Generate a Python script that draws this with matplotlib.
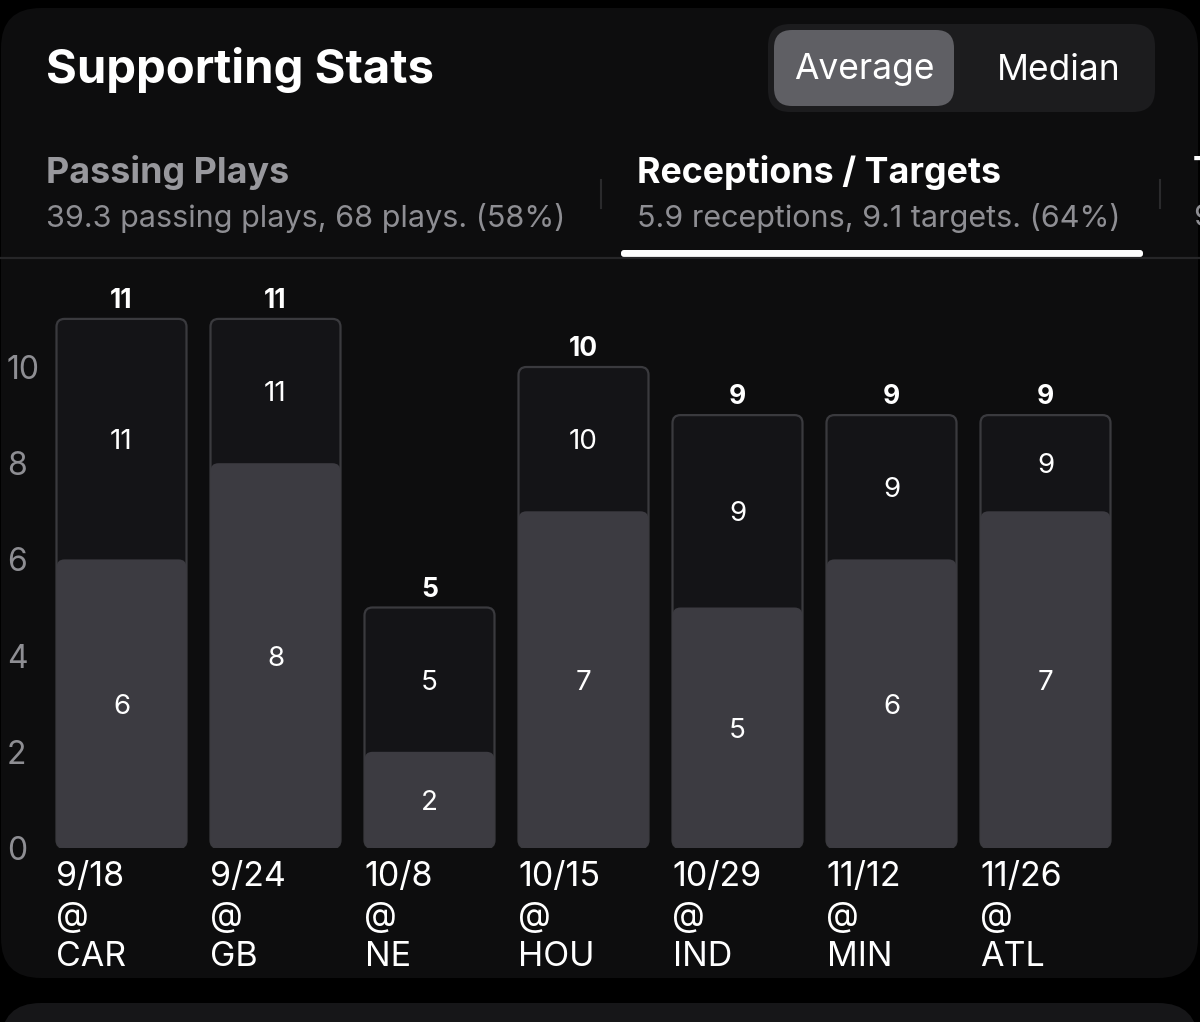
import matplotlib.pyplot as plt
from matplotlib.patches import FancyBboxPatch

plt.rcParams['font.family'] = ['Inter', 'DejaVu Sans']

# data
games = ['9/18', '9/24', '10/8', '10/15', '10/29', '11/12', '11/26']
opponents = ['CAR', 'GB', 'NE', 'HOU', 'IND', 'MIN', 'ATL']
targets = [11, 11, 5, 10, 9, 9, 9]
receptions = [6, 8, 2, 7, 5, 6, 7]
y_ticks = [0, 2, 4, 6, 8, 10]

W, H = 1200, 1022
fig = plt.figure(figsize=(W / 100, H / 100), dpi=100, facecolor='black')

# background / UI layer in pixel coords
bg = fig.add_axes([0, 0, 1, 1], zorder=0)
bg.set_xlim(0, W)
bg.set_ylim(H, 0)
bg.axis('off')

bg.add_patch(FancyBboxPatch((1, 8), 1197, 970, boxstyle='round,pad=0,rounding_size=40',
                            fc='#0d0d0e', ec='none'))
bg.add_patch(FancyBboxPatch((1, 1003), 1197, 100, boxstyle='round,pad=0,rounding_size=40',
                            fc='#161618', ec='none'))

bg.text(46, 70, 'Supporting Stats', color='white', fontsize=34, fontweight='bold',
        ha='left', va='center')

# segmented control
bg.add_patch(FancyBboxPatch((768, 24), 387, 88, boxstyle='round,pad=0,rounding_size=22',
                            fc='#1c1c1e', ec='none'))
bg.add_patch(FancyBboxPatch((774, 30), 180, 76, boxstyle='round,pad=0,rounding_size=18',
                            fc='#5f5f64', ec='none'))
bg.text(864, 70, 'Average', color='white', fontsize=25.5, ha='center', va='center')
bg.text(1059, 70, 'Median', color='white', fontsize=25.5, ha='center', va='center')

# tabs
bg.text(46, 173, 'Passing Plays', color='#98989d', fontsize=25.8, fontweight='bold',
        ha='left', va='center')
bg.text(46, 218, '39.3 passing plays, 68 plays. (58%)', color='#8e8e93', fontsize=22,
        ha='left', va='center')
bg.text(637, 173, 'Receptions / Targets', color='white', fontsize=25.8, fontweight='bold',
        ha='left', va='center')
bg.text(637, 218, '5.9 receptions, 9.1 targets. (64%)', color='#8e8e93', fontsize=22,
        ha='left', va='center')
bg.text(1193, 173, 'T', color='white', fontsize=25.8, fontweight='bold', ha='left', va='center')
bg.text(1193, 218, '9', color='#8e8e93', fontsize=22, ha='left', va='center')
bg.plot([601, 601], [180, 208], color='#2a2a2c', lw=1.5)
bg.plot([1160, 1160], [180, 208], color='#2a2a2c', lw=1.5)
bg.plot([0, W], [258.5, 258.5], color='#262628', lw=1.6)
bg.add_patch(FancyBboxPatch((621, 250), 522, 7, boxstyle='round,pad=0,rounding_size=3',
                            fc='white', ec='none'))

# chart
px_per_unit = 48.1
ytop = 11.5
ax = fig.add_axes([0, (H - 848) / H, 1, ytop * px_per_unit / H], zorder=1)
ax.patch.set_alpha(0)
ax.set_xlim(-121.5 / 154, (W - 121.5) / 154)
ax.set_ylim(0, ytop)
for s in ax.spines.values():
    s.set_visible(False)

width = 130 / 154
rnd = 8 / 154
asp = 154 / px_per_unit
for i in range(len(games)):
    t = targets[i]
    r = receptions[i]
    ax.add_patch(FancyBboxPatch((i - width / 2, 0), width, t,
                                boxstyle=f'round,pad=0,rounding_size={rnd}',
                                mutation_aspect=asp, fc='#141417', ec='#3a3a3e', lw=1.6))
    ax.add_patch(FancyBboxPatch((i - width / 2, 0), width, r,
                                boxstyle=f'round,pad=0,rounding_size={rnd}',
                                mutation_aspect=asp, fc='#3c3b41', ec='none'))
    ax.text(i, r / 2, str(r), color='white', fontsize=20, ha='center',
            va='center_baseline')
    ax.text(i, (r + t) / 2, str(t), color='white', fontsize=20, ha='center',
            va='center_baseline')
    ax.annotate(str(t), (i, t), xytext=(0, 15), textcoords='offset points', color='white',
                fontsize=19, fontweight='bold', ha='center', va='center_baseline')

ax.set_yticks(y_ticks)
ax.tick_params(axis='y', length=0, pad=-5, labelsize=23, labelcolor='#8e8e93')
for lbl in ax.get_yticklabels():
    lbl.set_horizontalalignment('left')

ax.set_xticks([i - width / 2 for i in range(len(games))])
ax.set_xticklabels([f'{g}\n@\n{o}' for g, o in zip(games, opponents)],
                   ha='left', va='top', linespacing=1.33)
ax.tick_params(axis='x', length=0, pad=9, labelsize=24.5, labelcolor='white')

fig.savefig('out.png', dpi=100, facecolor='black')
